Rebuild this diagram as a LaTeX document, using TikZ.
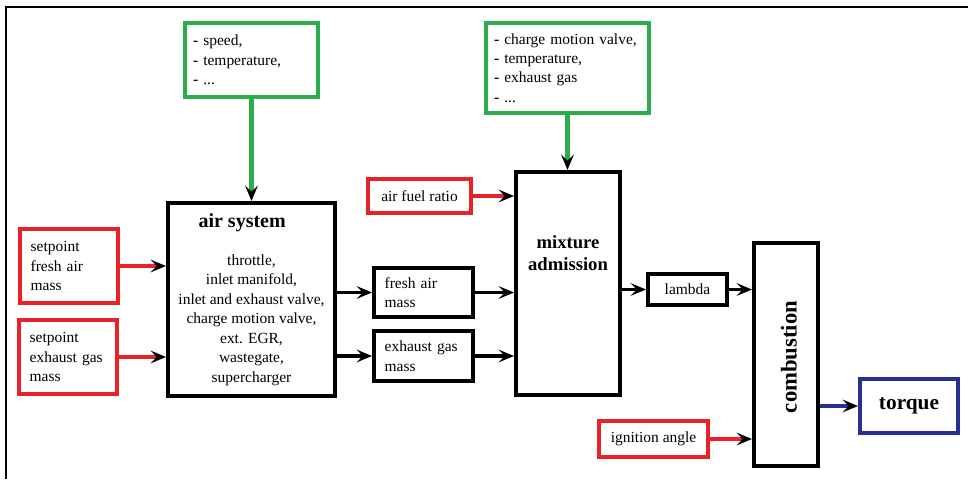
\documentclass[tikz,border=0pt]{standalone}
\usepackage{fontspec}
\setmainfont{Liberation Serif}
\usetikzlibrary{arrows.meta,positioning}
\definecolor{engred}{RGB}{232,34,39}
\definecolor{enggreen}{RGB}{43,172,74}
\definecolor{engblue}{RGB}{38,48,145}

\begin{document}
\begin{tikzpicture}[x=0.75pt,y=-0.75pt,
    box/.style={draw=black,line width=3pt,inner sep=0pt,
                font=\fontsize{11.6}{14.6}\selectfont},
    sig/.style={box,draw=engred,align=left,inner xsep=8pt,text width=57.5pt},
    env/.style={box,draw=enggreen,align=left,inner xsep=6pt},
    flow/.style={box,align=left,inner xsep=8pt,text width=58.25pt},
    title/.style={font=\fontsize{14}{17}\selectfont\bfseries,align=center},
    arr/.style={-{Stealth[length=11.5pt,width=9.5pt,inset=4.5pt,color=black]},
                line width=2.8pt}
  ]
    \useasboundingbox (0,0) rectangle (968,479);
    \draw[line width=1.3pt] (6,479) -- (6,7) -- (968,7);

    % operating conditions
    \node[env,text width=87.75pt,minimum height=55.5pt] (cond1) at (251.5,60)
      {{\bfseries -} speed,\\{\bfseries -} temperature,\\{\bfseries -} ...};
    \node[env,text width=110.25pt,minimum height=67.5pt] (cond2) at (567.5,68)
      {{\bfseries -} charge motion valve,\\{\bfseries -} temperature,\\
       {\bfseries -} exhaust gas\\{\bfseries -} ...};

    % setpoints
    \node[sig,minimum height=55.5pt] (spair) at (69,266) {setpoint\\fresh air\\mass};
    \node[sig,minimum height=55.5pt] (spegr) at (68,357) {setpoint\\exhaust gas\\mass};

    % air path
    \node[box,align=center,minimum width=125.25pt,minimum height=144.75pt] (air) at (251.5,299.5)
      {\rule{0pt}{8pt}{\fontsize{15}{17}\selectfont\bfseries air system\hspace*{14pt}}\\[14pt]
       throttle,\\inlet manifold,\\inlet and exhaust valve,\\charge motion valve,\\
       ext. EGR,\\wastegate,\\supercharger};
    \node[flow,minimum height=37pt] (fresh) at (423.5,292.5) {fresh air\\mass};
    \node[flow,minimum height=37.5pt] (egas) at (423.5,356) {exhaust gas\\mass};
    \node[box,draw=engred,minimum width=77.25pt,minimum height=25.5pt] (afr) at (419.5,196)
      {air fuel ratio};

    % mixture and combustion
    \node[box,minimum width=78pt,minimum height=167.25pt] (mix) at (568,283.5) {};
    \node[title] (mixlbl) at (568,253) {mixture\\admission};
    \node[box,minimum width=59.25pt,minimum height=23.25pt] (lam) at (687.5,289.5) {lambda};
    \node[box,minimum width=48pt,minimum height=167.25pt] (comb) at (786,354.5) {};
    \node[rotate=90,font=\fontsize{17}{20}\selectfont\bfseries] (comblbl) at (789,357) {combustion};
    \node[box,draw=engred,minimum width=81.75pt,minimum height=27pt] (ign) at (653.5,439)
      {ignition angle};
    \node[box,draw=engblue,minimum width=73.5pt,minimum height=40.5pt,
          font=\fontsize{16}{19}\selectfont\bfseries] (torque) at (909,406) {torque};

    % connections
    \draw[arr,enggreen,line width=3.2pt] (cond1.south) -- (air.north);
    \draw[arr,enggreen,line width=3.2pt] (cond2.south) -- (mix.north-|cond2.south);
    \draw[arr,engred] (spair.east) -- (air.west|-spair.east);
    \draw[arr,engred] (spegr.east) -- (air.west|-spegr.east);
    \draw[arr] (air.east|-fresh.west) -- (fresh.west);
    \draw[arr] (air.east|-egas.west) -- (egas.west);
    \draw[arr] (fresh.east) -- (mix.west|-fresh.east);
    \draw[arr] (egas.east) -- (mix.west|-egas.east);
    \draw[arr,engred] (afr.east) -- (mix.west|-afr.east);
    \draw[arr] (mix.east|-lam.west) -- (lam.west);
    \draw[arr] (lam.east) -- (comb.west|-lam.east);
    \draw[arr,engred] (ign.east) -- (comb.west|-ign.east);
    \draw[arr,engblue] (comb.east|-torque.west) -- (torque.west);
\end{tikzpicture}
\end{document}
